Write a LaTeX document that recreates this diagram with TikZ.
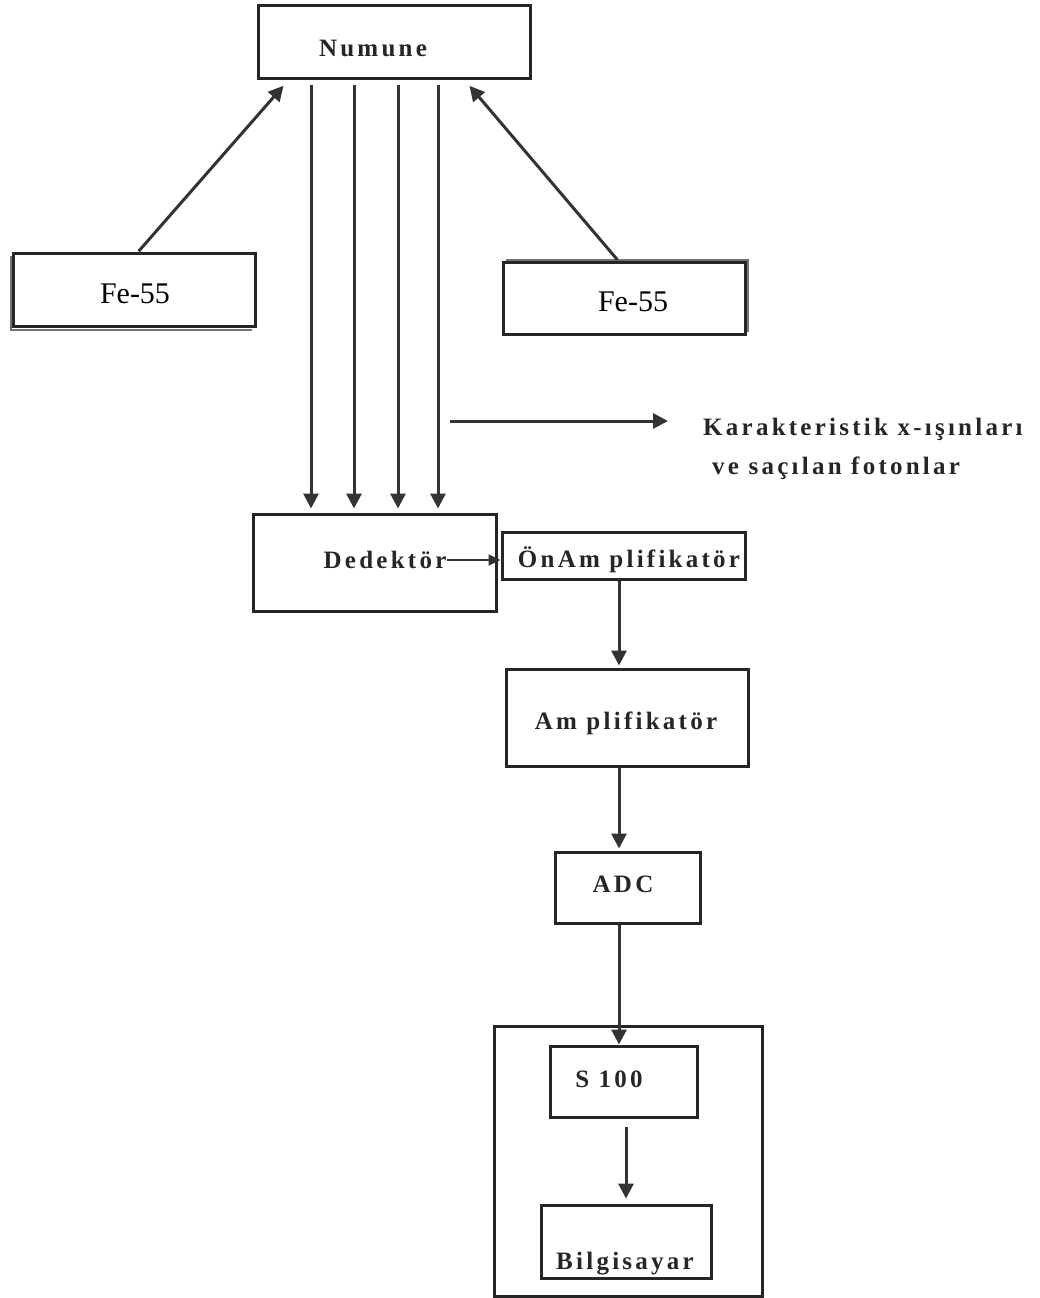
\documentclass[tikz,border=0pt]{standalone}
\usepackage{fontspec}
\setmainfont{Liberation Serif}
\newfontfamily\lblfont[LetterSpace=13]{Liberation Serif}
\usetikzlibrary{arrows.meta,calc}
\begin{document}
\begin{tikzpicture}[x=1pt,y=-1pt,
  box/.style={draw=black!85,line width=3pt,inner sep=0pt,fill=white},
  lbl/.style={font=\lblfont\bfseries\fontsize{25}{28}\selectfont,text=black!85,inner sep=0pt},
  fe/.style={font=\fontsize{30}{32}\selectfont,inner sep=0pt},
  arr/.style={draw=black!80,line width=3pt,-{Triangle[length=15pt,width=15pt]}},
  shad/.style={draw=black!55,line width=2.5pt}]
\useasboundingbox (0,0) rectangle (1039,1298);
% boxes
\node[box,minimum width=272pt,minimum height=72pt] (numune) at (394,42) {};
\node[lbl] (numunet) at (373,48) {Numune};
\draw[shad] (11,256) -- (11,330) -- (252,330);
\node[box,minimum width=242pt,minimum height=73pt] (fe1) at (134,290) {};
\node[fe] (fe1t) at (135,294) {Fe-55};
\draw[shad] (506,260) -- (748,260) -- (748,332);
\node[box,minimum width=242pt,minimum height=72pt] (fe2) at (624,298) {};
\node[fe] (fe2t) at (633,302) {Fe-55};
\node[box,minimum width=243pt,minimum height=97pt] (ded) at (374.5,562.5) {};
\node[lbl] (dedt) at (385,560) {Dedektör};
\node[box,minimum width=243pt,minimum height=47pt] (onamp) at (623.5,555.5) {};
\node[lbl] (onampt) at (629,560) {ÖnAm plifikatör};
\node[box,minimum width=242pt,minimum height=97pt] (amp) at (627,717.5) {};
\node[lbl] (ampt) at (626,723) {Am plifikatör};
\node[box,minimum width=145pt,minimum height=71pt] (adc) at (627.5,887.5) {};
\node[lbl] (adct) at (623,884) {ADC};
\node[box,minimum width=268pt,minimum height=270pt] (outer) at (628,1161) {};
\node[box,minimum width=147pt,minimum height=71pt] (s100) at (623.5,1081.5) {};
\node[lbl] (s100t) at (609,1079) {S 100};
\node[box,minimum width=170pt,minimum height=73pt] (bilg) at (626,1241.5) {};
\node[lbl] (bilgt) at (625,1264) {Bilgisayar};
\node[lbl,anchor=west] (kar1) at (703,429) {Karakteristik x-ışınları};
\node[lbl,anchor=west] (kar2) at (712,468) {ve saçılan fotonlar};
\coordinate (xs) at (450,421);
% arrows
\draw[arr,shorten <=1pt,shorten >=3pt] ($(fe1.north)+(4,0)$) -- ($(numune.south west)+(29,4)$);
\draw[arr,shorten <=1pt,shorten >=3pt] ($(fe2.north)+(-6,0)$) -- ($(numune.south east)+(-64,4)$);
\foreach \xx in {311,354,398,438}{
  \draw[arr,shorten <=5pt,shorten >=4pt] (\xx,0 |- numune.south) -- (\xx,0 |- ded.north);}
\draw[arr] (xs) -- ($(xs -| kar1.west)+(-35,0)$);
\draw[arr,line width=2.2pt,-{Triangle[length=12pt,width=11pt]}] (dedt.east) -- (dedt.east -| onamp.west);
\draw[arr,shorten >=2pt] (619,0 |- onamp.south) -- (619,0 |- amp.north);
\draw[arr,shorten >=2pt] (619,0 |- amp.south) -- (619,0 |- adc.north);
\draw[arr] (619,0 |- adc.south) -- (619,0 |- s100.north);
\draw[arr,shorten <=8pt,shorten >=5pt] (626,0 |- s100.south) -- (626,0 |- bilg.north);
\end{tikzpicture}
\end{document}
